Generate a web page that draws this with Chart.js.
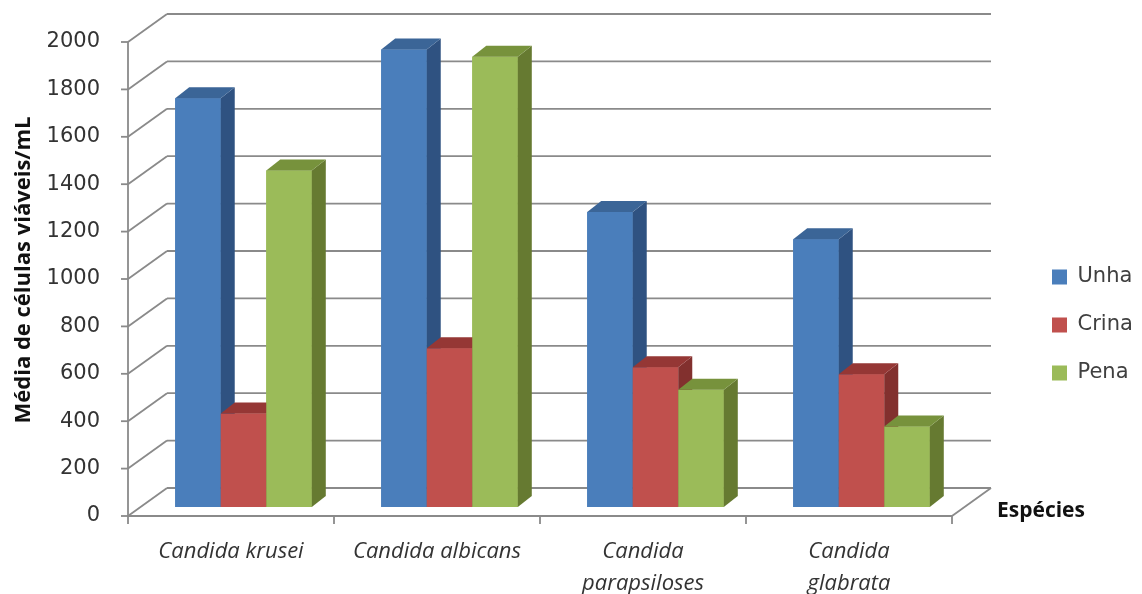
<!DOCTYPE html>
<html>
<head>
<meta charset="utf-8">
<script src="https://cdn.jsdelivr.net/npm/chart.js@4.4.0/dist/chart.umd.min.js"></script>
<style>
  html, body { margin: 0; padding: 0; background: #fff; }
  #wrap { width: 1142px; height: 594px; }
</style>
</head>
<body>
<div id="wrap"><canvas id="speciesChart" width="1142" height="594"></canvas></div>
<script>
/* ── Data ───────────────────────────────────────────────────── */
const categories = [
    'Candida krusei',
    'Candida albicans',
    ['Candida', 'parapsiloses'],
    ['Candida', 'glabrata'],
];
const seriesNames = ['Unha', 'Crina', 'Pena'];
const unha  = [1725, 1930, 1245, 1130];
const crina = [395, 670, 590, 560];
const pena  = [1420, 1900, 495, 340];
const yMin = 0, yMax = 2000, yStep = 200;

/* ── Palette (front / side / top faces) ─────────────────────── */
const palette = {
    unha:  { front: '#4a7ebb', side: '#2f5281', top: '#3b6597' },
    crina: { front: '#c0504d', side: '#82302e', top: '#953735' },
    pena:  { front: '#9bbb59', side: '#667a31', top: '#77923c' },
    grid:  '#8a8a8a',
    text:  '#333333',
};

/* 3D offsets of the walls and bar depth, relative to the bar plane */
const depth = {
    front: { dx: -12.5, dy: 9 },
    back:  { dx: 26.5,  dy: -19 },
    bar:   { dx: 14,    dy: -11 },
};

function line(ctx, x1, y1, x2, y2) {
    ctx.beginPath();
    ctx.moveTo(x1, y1);
    ctx.lineTo(x2, y2);
    ctx.stroke();
}

function poly(ctx, color, pts) {
    ctx.fillStyle = color;
    ctx.beginPath();
    pts.forEach(([px, py], i) => (i ? ctx.lineTo(px, py) : ctx.moveTo(px, py)));
    ctx.closePath();
    ctx.fill();
}

const shades = [palette.unha, palette.crina, palette.pena];

const bar3d = {
    id: 'bar3d',
    afterLayout(chart) {
        // park the legend to the right of the floor, like the Excel original
        const lg = chart.legend;
        const h = lg.height;
        lg.left = 1025; lg.right = 1142;
        lg.top = 239.5; lg.bottom = 239.5 + h;
    },
    beforeDatasetsDraw(chart) {
        const { ctx, chartArea: { left, right }, scales: { x, y } } = chart;
        const f = depth.front, b = depth.back;
        ctx.save();
        ctx.strokeStyle = palette.grid;
        ctx.lineWidth = 1.8;
        y.ticks.forEach(t => {
            const py = y.getPixelForValue(t.value);
            line(ctx, left + b.dx, py + b.dy, right + b.dx, py + b.dy);
            line(ctx, left + f.dx, py + f.dy, left + b.dx, py + b.dy);
            line(ctx, left + f.dx - 7, py + f.dy, left + f.dx, py + f.dy);
        });
        const y0 = y.getPixelForValue(yMin);
        const yTop = y.getPixelForValue(yMax);
        line(ctx, left + f.dx, yTop + f.dy, left + f.dx, y0 + f.dy + 8);
        line(ctx, left + f.dx, y0 + f.dy, right + f.dx, y0 + f.dy);
        line(ctx, right + f.dx, y0 + f.dy, right + b.dx, y0 + b.dy);
        for (let k = 1; k <= categories.length; k++) {
            const px = x.getPixelForValue(k - 0.5) + f.dx;
            line(ctx, px, y0 + f.dy, px, y0 + f.dy + 8);
        }
        ctx.restore();
    },
    afterDatasetsDraw(chart) {
        const ctx = chart.ctx, d = depth.bar;
        ctx.save();
        for (let j = 0; j < categories.length; j++) {
            chart.data.datasets.forEach((ds, i) => {
                const el = chart.getDatasetMeta(i).data[j];
                const { x, y, base, width } = el.getProps(['x', 'y', 'base', 'width'], true);
                const l = x - width / 2, r = x + width / 2;
                const c = shades[i];
                poly(ctx, c.front, [[l, y], [r, y], [r, base], [l, base]]);
                poly(ctx, c.side, [[r, y], [r + d.dx, y + d.dy], [r + d.dx, base + d.dy], [r, base]]);
                poly(ctx, c.top, [[l, y], [l + d.dx, y + d.dy], [r + d.dx, y + d.dy], [r, y]]);
            });
        }
        ctx.restore();
    },
    afterDraw(chart) {
        const { ctx, chartArea: { right }, scales: { y } } = chart;
        ctx.save();
        ctx.font = 'bold 21px "Open Sans"';
        ctx.fillStyle = '#111';
        ctx.textAlign = 'left';
        ctx.textBaseline = 'middle';
        ctx.fillText('Espécies', right + 32.5, y.getPixelForValue(yMin) + 4);
        ctx.restore();
    },
};

new Chart(document.getElementById('speciesChart'), {
    type: 'bar',
    data: {
        labels: categories,
        datasets: [
            { label: seriesNames[0], data: unha,  backgroundColor: palette.unha.front,  borderWidth: 0 },
            { label: seriesNames[1], data: crina, backgroundColor: palette.crina.front, borderWidth: 0 },
            { label: seriesNames[2], data: pena,  backgroundColor: palette.pena.front,  borderWidth: 0 },
        ],
    },
    options: {
        responsive: false,
        devicePixelRatio: 1,
        animation: false,
        events: [],
        layout: { padding: { left: 0, top: 33, right: 77.5, bottom: 0 } },
        datasets: { bar: { barPercentage: 1, categoryPercentage: 0.663 } },
        plugins: {
            tooltip: { enabled: false },
            legend: {
                position: 'right',
                align: 'start',
                maxWidth: 100,
                labels: {
                    color: '#404040',
                    font: { family: 'DejaVu Sans', size: 21 },
                    boxWidth: 15,
                    boxHeight: 15,
                    padding: 27,
                },
            },
        },
        scales: {
            x: {
                grid: { display: false, drawTicks: false },
                border: { display: false },
                ticks: {
                    color: palette.text,
                    font: { family: 'Open Sans', size: 22, style: 'italic', lineHeight: 1.45 },
                    padding: 28.5,
                    labelOffset: depth.front.dx,
                    maxRotation: 0,
                    autoSkip: false,
                },
                afterFit(scale) {
                    scale.height = 87;
                    scale.paddingLeft = 0;
                    scale.paddingRight = 0;
                },
            },
            y: {
                min: yMin,
                max: yMax,
                grid: { display: false, drawTicks: false },
                border: { display: false },
                ticks: {
                    stepSize: yStep,
                    color: palette.text,
                    font: { family: 'DejaVu Sans', size: 21 },
                    padding: 40.5,
                    labelOffset: depth.front.dy,
                    callback: v => String(v),
                },
                title: {
                    display: true,
                    text: 'Média de células viáveis/mL',
                    color: '#111',
                    font: { family: 'Open Sans', size: 22, weight: 'bold' },
                    padding: { top: 11, bottom: 0 },
                },
                afterFit(scale) {
                    scale.width = 140.5;
                    scale.paddingTop = 0;
                    scale.paddingBottom = 0;
                },
            },
        },
    },
    plugins: [bar3d],
});
</script>
</body>
</html>
